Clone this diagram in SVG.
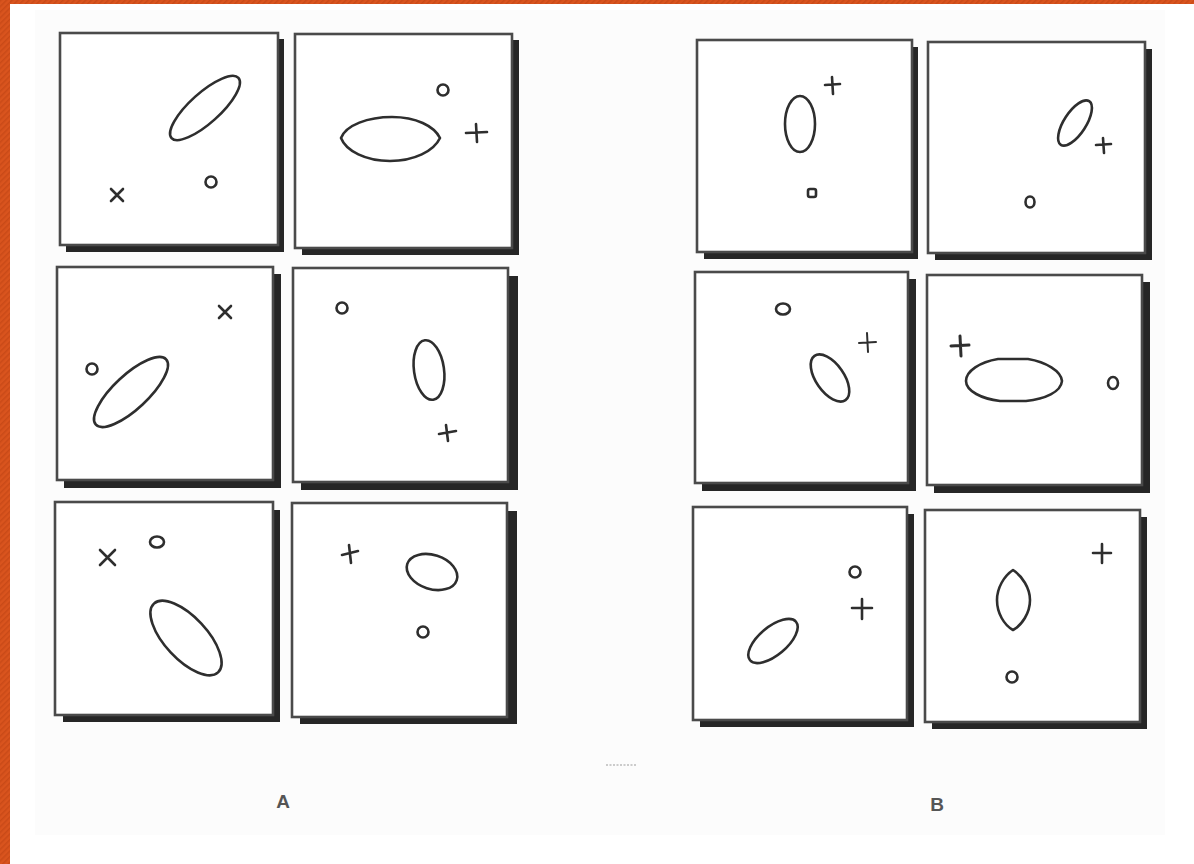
<svg xmlns="http://www.w3.org/2000/svg" width="1194" height="864" viewBox="0 0 1194 864">
<defs>
<pattern id="stripe" width="4" height="4" patternUnits="userSpaceOnUse" patternTransform="rotate(45)">
<rect width="4" height="4" fill="#D9541E"/>
<rect width="1.5" height="4" fill="#C94A18"/>
</pattern>
<style>
.sh{fill:#262626}
.bx{fill:#fff;stroke:#4a4a4a;stroke-width:2.6}
.s{fill:none;stroke:#2e2e2e;stroke-width:2.6;stroke-linecap:round;stroke-linejoin:round}
.lbl{font-family:"Liberation Sans",Arial,sans-serif;font-weight:bold;font-size:19px;fill:#555}
</style>
</defs>
<rect width="1194" height="864" fill="#fff"/>
<rect x="35" y="10" width="1130" height="825" fill="#fcfcfc"/>
<rect x="0" y="0" width="1194" height="4" fill="url(#stripe)"/>
<rect x="0" y="0" width="10" height="864" fill="url(#stripe)"/>

<g id="A1">
<rect class="sh" x="66" y="39" width="218" height="213"/>
<rect class="bx" x="60" y="33" width="218" height="212"/>
<ellipse class="s" cx="205" cy="108" rx="45" ry="15" transform="rotate(-42 205 108)"/>
<circle class="s" cx="211" cy="182" r="5.5"/>
<path class="s" d="M111 189 L123 201 M123 189 L111 201"/>
</g>
<g id="A2">
<rect class="sh" x="302" y="40" width="217" height="215"/>
<rect class="bx" x="295" y="34" width="217" height="214"/>
<path class="s" d="M341 138 C346 125 368 117 392 117 C416 117 434 126 440 138 C434 151 414 161 390 161 C366 161 346 151 341 138 Z"/>
<circle class="s" cx="443" cy="90" r="5.5"/>
<path class="s" d="M466 133 L487 132 M476 124 L477 142"/>
</g>
<g id="A3">
<rect class="sh" x="64" y="274" width="217" height="214"/>
<rect class="bx" x="57" y="267" width="216" height="213"/>
<ellipse class="s" cx="131" cy="392" rx="48" ry="17" transform="rotate(-43 131 392)"/>
<circle class="s" cx="92" cy="369" r="5.5"/>
<path class="s" d="M219 306 L231 318 M231 306 L219 318"/>
</g>
<g id="A4">
<rect class="sh" x="301" y="276" width="217" height="214"/>
<rect class="bx" x="293" y="268" width="215" height="214"/>
<ellipse class="s" cx="429" cy="370" rx="15" ry="30" transform="rotate(-8 429 370)"/>
<circle class="s" cx="342" cy="308" r="5.5"/>
<path class="s" d="M439 434 L456 431 M446 425 L448 441"/>
</g>
<g id="A5">
<rect class="sh" x="63" y="510" width="217" height="212"/>
<rect class="bx" x="55" y="502" width="218" height="213"/>
<ellipse class="s" cx="186" cy="638" rx="47" ry="21" transform="rotate(47 186 638)"/>
<ellipse class="s" cx="157" cy="542" rx="7" ry="5.5"/>
<path class="s" d="M100 550 L115 565 M115 550 L100 565"/>
</g>
<g id="A6">
<rect class="sh" x="300" y="511" width="217" height="213"/>
<rect class="bx" x="292" y="503" width="215" height="214"/>
<ellipse class="s" cx="432" cy="572" rx="26" ry="17" transform="rotate(18 432 572)"/>
<circle class="s" cx="423" cy="632" r="5.5"/>
<path class="s" d="M342 555 L358 551 M349 545 L351 563"/>
</g>

<g id="B1">
<rect class="sh" x="704" y="47" width="214" height="212"/>
<rect class="bx" x="697" y="40" width="215" height="212"/>
<ellipse class="s" cx="800" cy="124" rx="15" ry="28"/>
<path class="s" d="M825 85 L840 84 M832 77 L833 94"/>
<rect class="s" x="808" y="189" width="8" height="8" rx="2"/>
</g>
<g id="B2">
<rect class="sh" x="935" y="49" width="217" height="211"/>
<rect class="bx" x="928" y="42" width="217" height="211"/>
<ellipse class="s" cx="1075" cy="123" rx="26" ry="11" transform="rotate(-57 1075 123)"/>
<path class="s" d="M1096 145 L1111 144 M1103 138 L1104 153"/>
<ellipse class="s" cx="1030" cy="202" rx="4.5" ry="5.5"/>
</g>
<g id="B3">
<rect class="sh" x="702" y="279" width="214" height="212"/>
<rect class="bx" x="695" y="272" width="213" height="211"/>
<ellipse class="s" cx="830" cy="378" rx="27" ry="14" transform="rotate(55 830 378)"/>
<ellipse class="s" cx="783" cy="309" rx="7" ry="5.5"/>
<path class="s" d="M859 343 L876 342 M867 333 L868 352" style="stroke-width:2"/>
</g>
<g id="B4">
<rect class="sh" x="934" y="282" width="216" height="211"/>
<rect class="bx" x="927" y="275" width="215" height="210"/>
<path class="s" d="M966 381 C966 371 980 362 998 359 L1028 359 C1046 362 1061 371 1062 381 C1061 392 1045 399 1026 401 L1000 401 C982 399 966 391 966 381 Z"/>
<ellipse class="s" cx="1113" cy="383" rx="5" ry="6"/>
<path class="s" d="M951 346 L969 345 M960 336 L961 356" style="stroke-width:3"/>
</g>
<g id="B5">
<rect class="sh" x="700" y="514" width="214" height="213"/>
<rect class="bx" x="693" y="507" width="214" height="213"/>
<ellipse class="s" cx="773" cy="641" rx="30" ry="14" transform="rotate(-40 773 641)"/>
<circle class="s" cx="855" cy="572" r="5.5"/>
<path class="s" d="M852 608 L872 608 M862 599 L862 619"/>
</g>
<g id="B6">
<rect class="sh" x="932" y="517" width="215" height="212"/>
<rect class="bx" x="925" y="510" width="215" height="212"/>
<path class="s" d="M1013 570 C1022 576 1030 588 1030 600 C1030 613 1022 625 1013 630 C1004 625 997 613 997 600 C997 588 1004 576 1013 570 Z"/>
<circle class="s" cx="1012" cy="677" r="5.5"/>
<path class="s" d="M1093 553 L1111 553 M1102 544 L1102 563"/>
</g>

<g id="connectors"></g>

<line x1="606" y1="765" x2="636" y2="765" stroke="#bbb" stroke-width="1.5" stroke-dasharray="2 1.5"/>
<text class="lbl" x="283" y="808" text-anchor="middle">A</text>
<text class="lbl" x="937" y="811" text-anchor="middle">B</text>
</svg>
